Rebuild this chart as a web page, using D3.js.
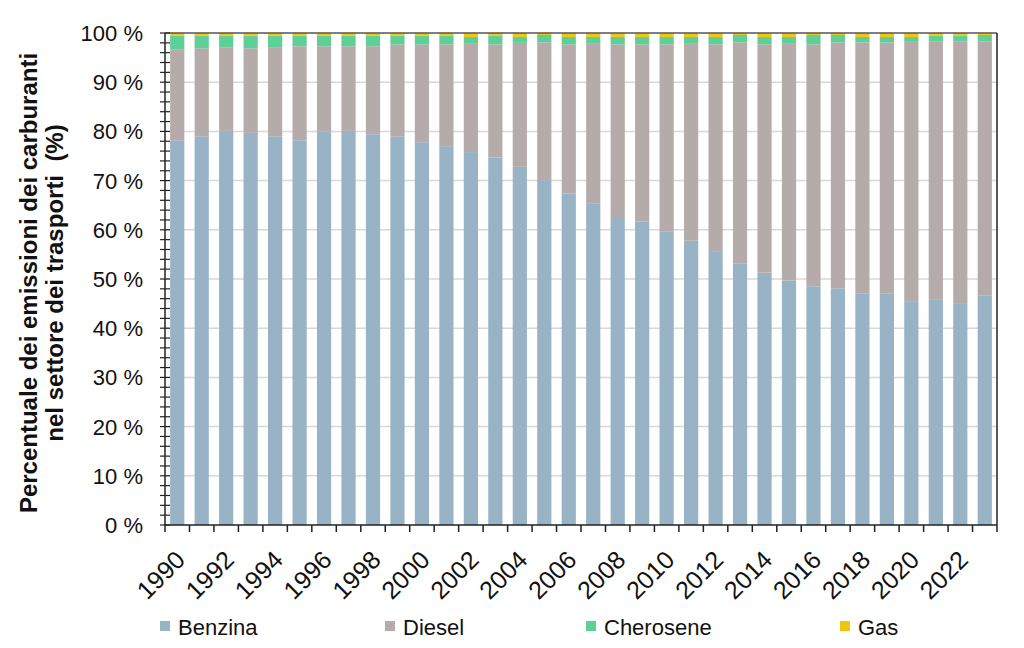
<!DOCTYPE html>
<html>
<head>
<meta charset="utf-8">
<script src="https://cdn.jsdelivr.net/npm/d3@7"></script>
<style>
  body { margin: 0; background: #fff; }
  svg text { font-family: "Liberation Sans", Arial, sans-serif; fill: #111; }
</style>
</head>
<body>
<div id="chart"></div>
<script>
// values (share of transport fuel emissions, %)
const years = d3.range(1990, 2024);
const benzina = [78.2,79.0,80.1,79.7,79.0,78.2,80.0,80.1,79.4,79.0,77.8,77.0,75.8,74.7,72.8,70.1,67.4,65.4,62.4,61.7,59.7,57.8,55.5,53.2,51.3,49.7,48.5,48.1,47.0,47.0,45.5,45.9,45.1,46.6];
const diesel = [18.4,17.9,17.0,17.2,18.0,19.1,17.3,17.2,17.9,18.7,19.9,20.7,22.0,23.0,25.2,28.0,30.3,32.4,35.3,36.0,38.0,40.0,42.2,44.9,46.4,48.1,49.2,50.0,51.1,51.1,52.7,52.4,53.2,51.7];
const cherosene = [2.9,2.6,2.4,2.6,2.5,2.2,2.2,2.2,2.2,1.8,1.8,1.8,1.4,1.8,1.2,1.5,1.5,1.4,1.5,1.5,1.5,1.4,1.5,1.5,1.5,1.4,1.9,1.5,1.1,1.1,1.0,1.2,1.2,1.3];
const gas = [0.5,0.5,0.5,0.5,0.5,0.5,0.5,0.5,0.5,0.5,0.5,0.5,0.8,0.5,0.8,0.4,0.8,0.8,0.8,0.8,0.8,0.8,0.8,0.4,0.8,0.8,0.4,0.4,0.8,0.8,0.8,0.5,0.5,0.4];
const seriesNames = ["Benzina", "Diesel", "Cherosene", "Gas"];
const seriesColors = ["#98b2c6", "#b5abaa", "#5fcf98", "#f2c511"];
const yTicks = d3.range(0, 101, 10);

const size = {width: 1024, height: 648};
const margin = {top: 33, right: 27, bottom: 123, left: 165};
const width = size.width - margin.left - margin.right;
const height = size.height - margin.top - margin.bottom;

const table = years.map((yr, i) => ({
  year: yr, Benzina: benzina[i], Diesel: diesel[i], Cherosene: cherosene[i], Gas: gas[i]
}));
const stacked = d3.stack().keys(seriesNames)(table);

const svg = d3.select("#chart").append("svg")
  .attr("width", size.width)
  .attr("height", size.height);
const g = svg.append("g")
  .attr("transform", "translate(" + margin.left + "," + margin.top + ")");

const x = d3.scaleBand().domain(years).range([0, width]).paddingInner(0.42).paddingOuter(0.21);
const y = d3.scaleLinear().domain([0, 100]).range([height, 0]);
const color = d3.scaleOrdinal().domain(seriesNames).range(seriesColors);

// gridlines
g.append("g").selectAll("line")
  .data(yTicks.filter(d => d > 0 && d < 100))
  .join("line")
  .attr("x1", 0).attr("x2", width)
  .attr("y1", d => y(d)).attr("y2", d => y(d))
  .attr("stroke", "#d8d8d8").attr("stroke-width", 1.5);

// bars
g.append("g").selectAll("g")
  .data(stacked)
  .join("g")
  .attr("fill", d => color(d.key))
  .selectAll("rect")
  .data(d => d)
  .join("rect")
  .attr("x", d => x(d.data.year))
  .attr("width", x.bandwidth())
  .attr("y", d => y(d[1]))
  .attr("height", d => y(d[0]) - y(d[1]));

// frame: top and right
g.append("line").attr("x1", 0).attr("x2", width).attr("y1", 0).attr("y2", 0)
  .attr("stroke", "#555").attr("stroke-width", 1.5);
g.append("line").attr("x1", width).attr("x2", width).attr("y1", 0).attr("y2", height)
  .attr("stroke", "#222").attr("stroke-width", 1.5);

// y axis with minor ticks crossing the line
const yAxisG = g.append("g").attr("class", "y-axis");
yAxisG.append("line").attr("x1", 0).attr("x2", 0).attr("y1", 0).attr("y2", height)
  .attr("stroke", "#222").attr("stroke-width", 1.5);
yAxisG.selectAll(".minor")
  .data(d3.range(0, 101, 2))
  .join("line")
  .attr("x1", -5).attr("x2", 5)
  .attr("y1", d => y(d)).attr("y2", d => y(d))
  .attr("stroke", "#222").attr("stroke-width", 1.2);
yAxisG.selectAll(".lbl")
  .data(yTicks)
  .join("text")
  .attr("x", -22)
  .attr("y", d => y(d))
  .attr("dy", "0.36em")
  .attr("text-anchor", "end")
  .style("font-size", "22px")
  .text(d => d + " %");

// x axis: ticks on category boundaries, labels every two years
const xAxisG = g.append("g").attr("transform", "translate(0," + height + ")");
xAxisG.append("line").attr("x1", 0).attr("x2", width)
  .attr("stroke", "#222").attr("stroke-width", 1.5);
xAxisG.selectAll(".tick")
  .data(d3.range(0, years.length + 1))
  .join("line")
  .attr("x1", d => d * x.step()).attr("x2", d => d * x.step())
  .attr("y1", 0).attr("y2", 7)
  .attr("stroke", "#222").attr("stroke-width", 1.5);
xAxisG.selectAll(".yr")
  .data(years.filter(d => d % 2 === 0))
  .join("text")
  .attr("transform", d => "translate(" + (x(d) + x.bandwidth() / 2 - 3) + ",24) rotate(-45)")
  .attr("text-anchor", "end")
  .attr("dy", "0.7em")
  .style("font-size", "25px")
  .text(d => d);

// y axis title
const yTitle = svg.append("text")
  .attr("transform", "rotate(-90)")
  .attr("text-anchor", "middle")
  .style("font-size", "24px")
  .style("font-weight", "bold");
yTitle.append("tspan").attr("x", -283).attr("y", 37).text("Percentuale dei emissioni dei carburanti");
yTitle.append("tspan").attr("x", -283).attr("y", 63).text("nel settore dei trasporti\u00a0 (%)");

// legend
const legendX = [160, 385, 586, 840];
const legend = svg.append("g").selectAll("g")
  .data(seriesNames)
  .join("g")
  .attr("transform", (d, i) => "translate(" + legendX[i] + ",621)");
legend.append("rect").attr("width", 10).attr("height", 10).attr("fill", d => color(d));
legend.append("text").attr("x", 18).attr("y", 14).style("font-size", "22px").text(d => d);
</script>
</body>
</html>
